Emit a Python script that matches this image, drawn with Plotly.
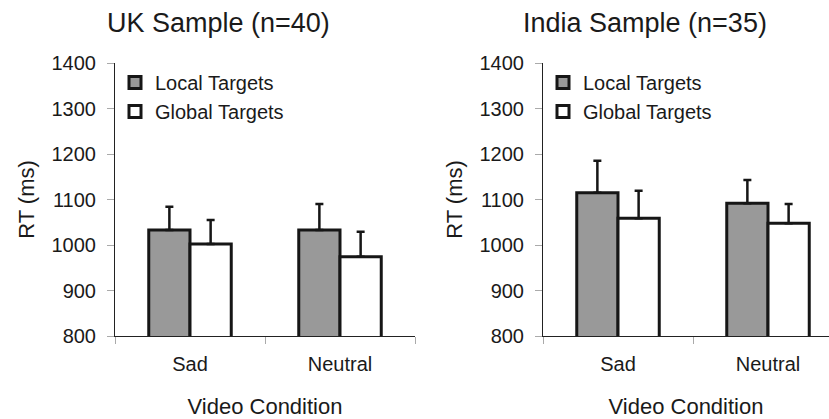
import plotly.graph_objects as go

# Reaction times (ms) by video condition, with upward standard-error bars
conditions = ["Sad", "Neutral"]

uk_local = [1033, 1033]
uk_local_err = [51, 57]
uk_global = [1002, 974]
uk_global_err = [53, 55]

india_local = [1115, 1092]
india_local_err = [70, 51]
india_global = [1059, 1048]
india_global_err = [60, 42]

y_ticks = [800, 900, 1000, 1100, 1200, 1300, 1400]

W, H = 829, 419
FONT = "Liberation Sans, Arial, sans-serif"
INK = "#1a1a1a"


def px_x(p):
    return p / W


def px_y(p):
    return (H - p) / H


def bar(name, x, y, err, fill, xaxis, yaxis, legend):
    return go.Bar(
        name=name,
        x=x,
        y=y,
        marker=dict(color=fill, line=dict(color="#161616", width=3)),
        error_y=dict(type="data", array=err, arrayminus=[0] * len(err),
                     symmetric=False, color="#161616", thickness=2.5, width=4),
        xaxis=xaxis,
        yaxis=yaxis,
        legend=legend,
    )


fig = go.Figure()
fig.add_trace(bar("Local Targets", conditions, uk_local, uk_local_err, "#999999", "x", "y", "legend"))
fig.add_trace(bar("Global Targets", conditions, uk_global, uk_global_err, "#ffffff", "x", "y", "legend"))
fig.add_trace(bar("Local Targets", conditions, india_local, india_local_err, "#999999", "x2", "y2", "legend2"))
fig.add_trace(bar("Global Targets", conditions, india_global, india_global_err, "#ffffff", "x2", "y2", "legend2"))

y_dom = [px_y(336), px_y(63)]

xaxis_common = dict(
    type="category",
    automargin=False,
    showline=True, linecolor="#222222", linewidth=1,
    ticks="outside", tickson="boundaries", ticklen=7, tickcolor="#aaaaaa",
    tickfont=dict(family=FONT, size=20, color=INK),
    ticklabelstandoff=10,
    showgrid=False, zeroline=False,
    title=dict(text="Video Condition", font=dict(family=FONT, size=22, color=INK), standoff=24),
)
yaxis_common = dict(
    range=[800, 1400],
    automargin=False,
    tickvals=y_ticks,
    showline=True, linecolor="#222222", linewidth=1,
    ticks="outside", ticklen=7, tickcolor="#aaaaaa",
    tickfont=dict(family=FONT, size=20, color=INK),
    ticklabelstandoff=7,
    showgrid=False, zeroline=False,
    domain=y_dom,
    title=dict(text="RT (ms)", font=dict(family=FONT, size=22, color=INK), standoff=10),
)

legend_common = dict(
    font=dict(family=FONT, size=20, color=INK),
    bgcolor="rgba(0,0,0,0)",
    itemwidth=30,
    xanchor="left", yanchor="top",
    tracegroupgap=0,
    itemclick=False, itemdoubleclick=False,
)

fig.update_layout(
    width=W, height=H,
    margin=dict(l=0, r=0, t=0, b=0, autoexpand=False),
    paper_bgcolor="white", plot_bgcolor="white",
    barmode="group", bargap=0.45, bargroupgap=0,
    font=dict(family=FONT, color=INK),
    xaxis=dict(xaxis_common, domain=[px_x(115), px_x(415)], range=[-0.5, 1.5], anchor="y"),
    yaxis=dict(yaxis_common, anchor="x"),
    xaxis2=dict(xaxis_common, domain=[px_x(543), 1.0], range=[-0.5, -0.5 + (829 - 543) / 150], anchor="y2"),
    yaxis2=dict(yaxis_common, anchor="x2"),
    legend=dict(legend_common, x=px_x(115), y=px_y(63)),
    legend2=dict(legend_common, x=px_x(543), y=px_y(63)),
    annotations=[
        dict(text="UK Sample (n=40)", x=px_x(218), y=px_y(23), xref="paper", yref="paper",
             xanchor="center", yanchor="middle", showarrow=False,
             font=dict(family=FONT, size=27, color=INK)),
        dict(text="India Sample (n=35)", x=px_x(645), y=px_y(23), xref="paper", yref="paper",
             xanchor="center", yanchor="middle", showarrow=False,
             font=dict(family=FONT, size=27, color=INK)),
    ],
)

fig.write_html("out.html")
